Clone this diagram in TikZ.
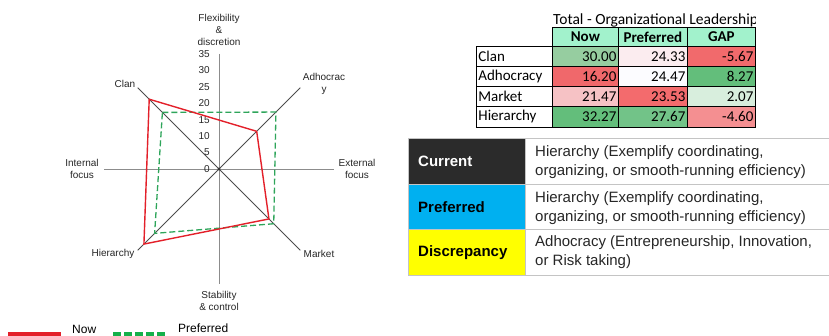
\documentclass[tikz,border=0pt]{standalone}
\usepackage{fontspec}
\setmainfont{Liberation Sans}
\newfontfamily\carl{Carlito}
\usetikzlibrary{calc}
\definecolor{nowred}{HTML}{E3202A}
\definecolor{prefgreen}{HTML}{2EA55A}
\definecolor{legendgreen}{HTML}{14B04A}
\definecolor{mint}{HTML}{A2F2CC}
\definecolor{cA}{HTML}{96CDA0}
\definecolor{cB}{HTML}{FBECEF}
\definecolor{cC}{HTML}{F16A6C}
\definecolor{cD}{HTML}{F0686B}
\definecolor{cE}{HTML}{FCFCFF}
\definecolor{cF}{HTML}{63BE7B}
\definecolor{cG}{HTML}{F6C2C5}
\definecolor{cH}{HTML}{F36B6D}
\definecolor{cI}{HTML}{D8EEDD}
\definecolor{cJ}{HTML}{63BE7B}
\definecolor{cK}{HTML}{72C388}
\definecolor{cL}{HTML}{F48F91}
\definecolor{darkcell}{HTML}{2B2B2B}
\definecolor{bluecell}{HTML}{00B0F0}
\definecolor{yellowcell}{HTML}{FFFF00}
\definecolor{boxline}{HTML}{C4C4C4}
\definecolor{bodytext}{HTML}{262626}
\tikzset{
  axisline/.style={draw=black!45, line width=0.9pt},
  diagline/.style={draw=black!70, line width=0.8pt},
  nowline/.style={draw=nowred, line width=1.4pt, line join=miter},
  prefline/.style={draw=prefgreen, line width=1.3pt, dash pattern=on 6pt off 3pt},
  axlab/.style={font=\fontsize{10}{12}\selectfont, align=center, inner sep=0pt, text=black!85},
  ticklab/.style={font=\fontsize{10}{12}\selectfont, anchor=east, inner sep=0pt, text=black!85},
  tcell/.style={draw=black, line width=0.8pt, anchor=north west, minimum height=20pt, inner sep=2pt, font=\carl\fontsize{15}{18}\selectfont},
  numcell/.style={tcell, align=right},
  headcell/.style={tcell, fill=mint, font=\carl\bfseries\fontsize{15}{18}\selectfont, align=center},
  leftcell/.style={draw=boxline, line width=1pt, anchor=north west, minimum width=117pt, minimum height=46pt, inner sep=0pt, font=\bfseries\fontsize{15}{18}\selectfont},
  rightcell/.style={draw=boxline, line width=1pt, anchor=north west, minimum width=305pt, minimum height=46pt, inner sep=0pt},
  righttext/.style={anchor=west, align=left, inner sep=0pt, text=bodytext, font=\fontsize{15}{19}\selectfont}
}
\begin{document}
\begin{tikzpicture}[x=1pt,y=-1pt]
\useasboundingbox (0,0) rectangle (829,336);
% ---------------- radar chart ----------------
\coordinate (C) at (219,169);
\foreach \nm/\ang in {N/-90,NE/-45,E/0,SE/45,S/90,SW/135,W/180,NW/-135}
  \path (C) ++(\ang:115) coordinate (a\nm);
\draw[axisline] (aN) -- (aS);
\draw[axisline] (aW) -- (aE);
\draw[diagline] (aNW) -- (aSE);
\draw[diagline] (aNE) -- (aSW);
\fill[black!80] (C) circle (1.6pt);
\foreach \v in {0,5,...,35}
  \node[ticklab] (t\v) at ($(C)+(-9,{-\v*3.29})$) {\v};
% preferred (green dashed)
\path (C) ++(-135:{24.33*3.29}) coordinate (pC);
\path (C) ++(-45:{24.47*3.29}) coordinate (pA);
\path (C) ++(45:{23.53*3.29}) coordinate (pM);
\path (C) ++(135:{27.67*3.29}) coordinate (pH);
\draw[prefline] (pC) -- (pA) -- (pM) -- (pH) -- cycle;
% now (red)
\path (C) ++(-135:{30.00*3.29}) coordinate (nC);
\path (C) ++(-45:{16.20*3.29}) coordinate (nA);
\path (C) ++(45:{21.47*3.29}) coordinate (nM);
\path (C) ++(135:{32.27*3.29}) coordinate (nH);
\draw[nowline] (nC) -- (nA) -- (nM) -- (nH) -- cycle;
% axis labels
\node[axlab] (lFlex) at (219,30) {Flexibility\\\&\\discretion};
\node[axlab] (lAdh) at (324,84) {Adhocrac\\y};
\node[axlab] (lExt) at (357,169) {External\\focus};
\node[axlab] (lMkt) at (319,254) {Market};
\node[axlab] (lStab) at (219,301) {Stability\\\& control};
\node[axlab] (lHier) at (113,254) {Hierarchy};
\node[axlab] (lInt) at (82,169) {Internal\\focus};
\node[axlab] (lClan) at (125,84) {Clan};
% legend
\coordinate (rA) at (8,334); \coordinate (rB) at (61,334);
\draw[nowred, line width=5pt] (rA) -- (rB);
\node[anchor=base west, inner sep=0pt, font=\fontsize{12}{14}\selectfont] (lgNow) at (72,333.5) {Now};
\coordinate (gA) at (113,334); \coordinate (gB) at (166,334);
\draw[legendgreen, line width=5pt, dash pattern=on 7.5pt off 3.6pt] (gA) -- (gB);
\node[anchor=base west, inner sep=0pt, font=\fontsize{12}{14}\selectfont] (lgPref) at (178,332.5) {Preferred};
% ---------------- data table ----------------
\begin{scope}
\clip (540,5) rectangle (755,30);
\node[anchor=west, inner sep=0pt, font=\carl\fontsize{15.5}{18}\selectfont] (ttl) at (553,20) {Total - Organizational Leadership};
\end{scope}
\node[headcell, minimum width=66pt, minimum height=19pt] (hNow) at (552,27) {Now};
\node[headcell, minimum width=69pt, minimum height=19pt] (hPref) at (618,27) {Preferred};
\node[headcell, minimum width=68pt, minimum height=19pt] (hGap) at (687,27) {GAP};
% rows
\node[tcell, minimum width=76pt, align=left, text width=72pt] (r1) at (476,46) {Clan};
\node[numcell, fill=cA, text width=62pt] (r1a) at (552,46) {30.00};
\node[numcell, fill=cB, text width=65pt] (r1b) at (618,46) {24.33};
\node[numcell, fill=cC, text width=64pt] (r1c) at (687,46) {-5.67};
\node[tcell, minimum width=76pt, align=left, text width=72pt] (r2) at (476,66) {Adhocracy};
\node[numcell, fill=cD, text width=62pt] (r2a) at (552,66) {16.20};
\node[numcell, fill=cE, text width=65pt] (r2b) at (618,66) {24.47};
\node[numcell, fill=cF, text width=64pt] (r2c) at (687,66) {8.27};
\node[tcell, minimum width=76pt, align=left, text width=72pt] (r3) at (476,86) {Market};
\node[numcell, fill=cG, text width=62pt] (r3a) at (552,86) {21.47};
\node[numcell, fill=cH, text width=65pt] (r3b) at (618,86) {23.53};
\node[numcell, fill=cI, text width=64pt] (r3c) at (687,86) {2.07};
\node[tcell, minimum width=76pt, align=left, text width=72pt, minimum height=21pt] (r4) at (476,106) {Hierarchy};
\node[numcell, fill=cJ, text width=62pt, minimum height=21pt] (r4a) at (552,106) {32.27};
\node[numcell, fill=cK, text width=65pt, minimum height=21pt] (r4b) at (618,106) {27.67};
\node[numcell, fill=cL, text width=64pt, minimum height=21pt] (r4c) at (687,106) {-4.60};
% ---------------- summary box ----------------
\node[rightcell] (b1) at (525,138) {};
\node[rightcell, minimum height=45pt] (b2) at (525,184) {};
\node[rightcell] (b3) at (525,229) {};
\node[leftcell, fill=darkcell, text=white] (k1) at (408,138) {};
\node[leftcell, fill=bluecell, minimum height=45pt] (k2) at (408,184) {};
\node[leftcell, fill=yellowcell] (k3) at (408,229) {};
\node[anchor=west, inner sep=0pt, text=white, font=\bfseries\fontsize{15}{18}\selectfont] (k1t) at ($(k1.west)+(10,0)$) {Current};
\node[anchor=west, inner sep=0pt, font=\bfseries\fontsize{15}{18}\selectfont] (k2t) at ($(k2.west)+(10,0)$) {Preferred};
\node[anchor=west, inner sep=0pt, font=\bfseries\fontsize{15}{18}\selectfont] (k3t) at ($(k3.west)+(10,0)$) {Discrepancy};
\node[righttext] (b1t) at ($(b1.west)+(10,1)$) {Hierarchy (Exemplify coordinating,\\organizing, or smooth-running efficiency)};
\node[righttext] (b2t) at ($(b2.west)+(10,1)$) {Hierarchy (Exemplify coordinating,\\organizing, or smooth-running efficiency)};
\node[righttext] (b3t) at ($(b3.west)+(10,0)$) {Adhocracy (Entrepreneurship, Innovation,\\or Risk taking)};
\end{tikzpicture}
\end{document}
